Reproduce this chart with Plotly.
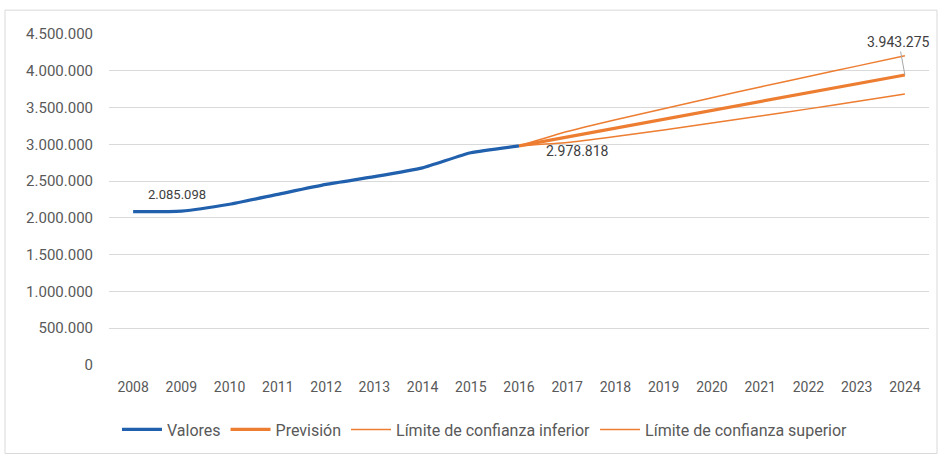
import plotly.graph_objects as go

# Categories and series values
years = [2008, 2009, 2010, 2011, 2012, 2013, 2014, 2015, 2016,
         2017, 2018, 2019, 2020, 2021, 2022, 2023, 2024]
hist_years = [2008, 2009, 2010, 2011, 2012, 2013, 2014, 2015, 2016]
fc_years = [2016, 2017, 2018, 2019, 2020, 2021, 2022, 2023, 2024]

valores = [2085098, 2092000, 2185000, 2320000, 2455000, 2560000, 2680000, 2885000, 2978818]
prevision = [2978818, 3099000, 3220000, 3340000, 3461000, 3582000, 3702000, 3823000, 3943275]
lim_inferior = [2978818, 3024000, 3105000, 3195000, 3289000, 3384000, 3482000, 3583000, 3683000]
lim_superior = [2978818, 3174000, 3335000, 3485000, 3633000, 3780000, 3922000, 4063000, 4203000]

y_ticks = [0, 500000, 1000000, 1500000, 2000000, 2500000, 3000000, 3500000, 4000000, 4500000]
y_tick_text = ["0", "500.000", "1.000.000", "1.500.000", "2.000.000", "2.500.000",
               "3.000.000", "3.500.000", "4.000.000", "4.500.000"]


def fmt(v):
    return f"{v:,.0f}".replace(",", ".")


BLUE = "#2160ad"
ORANGE = "#ed7d31"
GRID = "#d9d9d9"
TEXT = "#595959"
FONT = "Roboto"

fig = go.Figure()
fig.add_trace(go.Scatter(x=hist_years, y=valores, name="Valores", mode="lines",
                         line=dict(color=BLUE, width=3.2, shape="spline", smoothing=0.5)))
fig.add_trace(go.Scatter(x=fc_years, y=prevision, name="Previsión", mode="lines",
                         line=dict(color=ORANGE, width=3.2)))
fig.add_trace(go.Scatter(x=fc_years, y=lim_inferior, name="Límite de confianza inferior",
                         mode="lines", line=dict(color=ORANGE, width=1.5, shape="spline", smoothing=0.4)))
fig.add_trace(go.Scatter(x=fc_years, y=lim_superior, name="Límite de confianza superior",
                         mode="lines", line=dict(color=ORANGE, width=1.5, shape="spline", smoothing=0.4)))

label_font = dict(family=FONT, size=14, color="#404040")
fig.add_annotation(x=hist_years[0], y=valores[0], text=fmt(valores[0]), showarrow=False,
                   xshift=44, yshift=17, font=dict(family=FONT, size=13, color="#404040"))
fig.add_annotation(x=hist_years[-1], y=valores[-1], text=fmt(valores[-1]), showarrow=False,
                   xshift=58, yshift=-5, font=label_font)
fig.add_annotation(x=fc_years[-1], y=prevision[-1], text=fmt(prevision[-1]), showarrow=True,
                   arrowhead=0, arrowwidth=1, arrowcolor="#a6a6a6", ax=-6, ay=-33,
                   font=label_font)

# light frame around the whole chart
fig.add_shape(type="rect", xref="paper", yref="paper",
              x0=(5 - 109) / 820, x1=(937 - 109) / 820,
              y0=(367 - 456) / 333, y1=(367 - 10) / 333,
              line=dict(color="#d9d9d9", width=1), layer="below")

fig.update_layout(
    width=939, height=457,
    margin=dict(l=109, r=10, t=34, b=90),
    paper_bgcolor="white", plot_bgcolor="white",
    font=dict(family=FONT, color=TEXT),
    showlegend=True,
    legend=dict(orientation="h", x=0.4585, xanchor="center", y=-0.195, yanchor="middle",
                font=dict(family=FONT, size=16, color=TEXT), itemwidth=40,
                bgcolor="rgba(0,0,0,0)"),
    xaxis=dict(range=[2007.5, 2024.5], tickmode="array", tickvals=years,
               ticktext=[str(y) for y in years], showgrid=False, zeroline=False,
               showline=False, ticks="", ticklabelstandoff=12,
               tickfont=dict(family=FONT, size=14, color=TEXT)),
    yaxis=dict(range=[0, 4500000], tickmode="array", tickvals=y_ticks, ticktext=y_tick_text,
               showgrid=True, gridcolor=GRID, gridwidth=1, zeroline=False, showline=False,
               ticks="", ticklabelstandoff=15,
               tickfont=dict(family=FONT, size=15, color=TEXT)),
)

fig.write_html("out.html")
